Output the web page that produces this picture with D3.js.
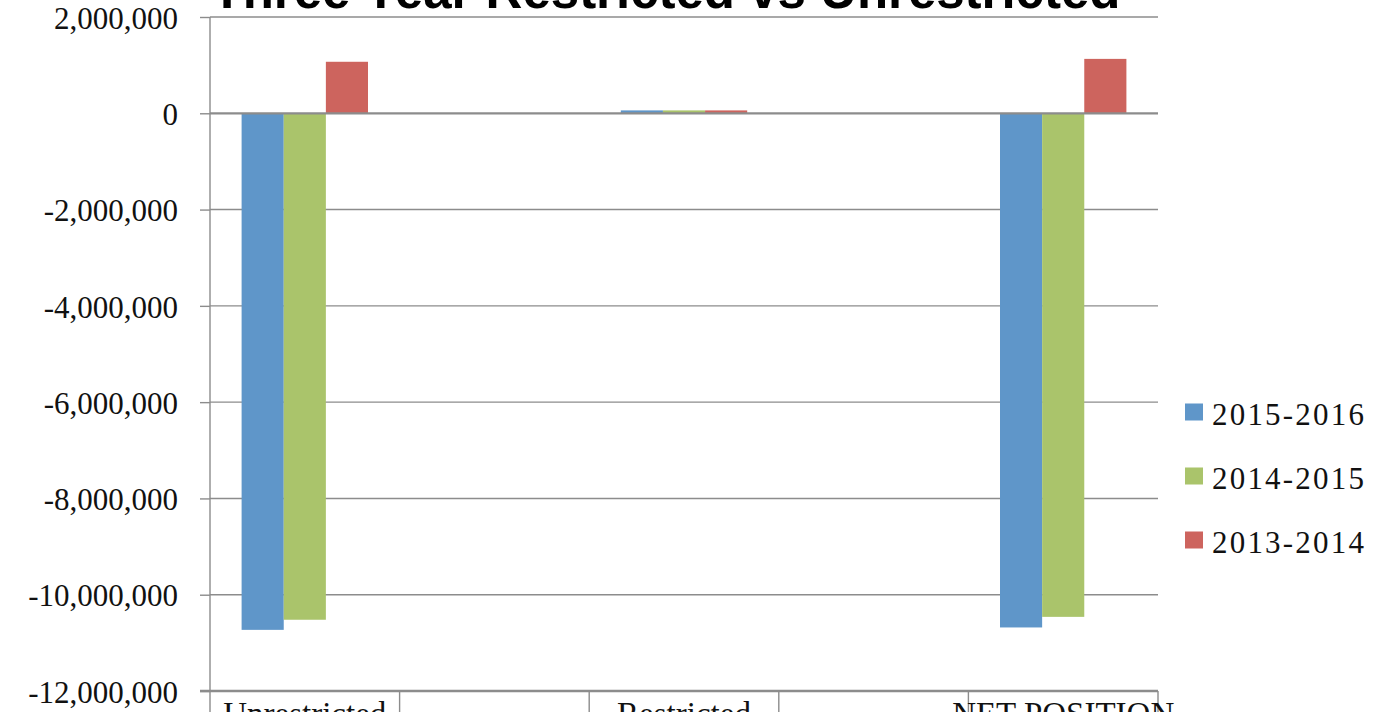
<!DOCTYPE html>
<html>
<head>
<meta charset="utf-8">
<script src="https://cdn.jsdelivr.net/npm/d3@7"></script>
<style>
  html, body { margin:0; padding:0; background:#fff; overflow:hidden; }
  svg { display:block; }
</style>
</head>
<body>
<div id="chart"></div>
<script>
/* three year restricted vs unrestricted — clustered columns */

const TITLE      = "Three Year Restricted vs Unrestricted";
const CATEGORIES = ["Unrestricted", "", "Restricted", "", "NET POSITION"];
const SERIES     = ["2015-2016", "2014-2015", "2013-2014"];
const V_2015_16  = [-10730000, null, 60000, null, -10680000];
const V_2014_15  = [-10520000, null, 60000, null, -10460000];
const V_2013_14  = [  1070000, null, 60000, null,   1130000];
const Y_TICKS    = [2000000, 0, -2000000, -4000000, -6000000, -8000000, -10000000, -12000000];
const COLORS     = ["#5f96c9", "#aac46b", "#cd645e"];

const W = 1386, H = 712;
const PLOT = {left:210, right:1158, top:17, bottom:691};
const GRID = "#8c8c8c";

const values = [V_2015_16, V_2014_15, V_2013_14];
const fmt = d3.formatLocale({decimal:".", thousands:",", grouping:[3], currency:["",""], minus:"-"}).format(",");

const svg = d3.select("#chart").append("svg").attr("width", W).attr("height", H);

/* ---------- scales ---------- */
const y = d3.scaleLinear().domain([-12000000, 2000000]).range([PLOT.bottom, PLOT.top]);
const x0 = d3.scaleBand().domain(d3.range(CATEGORIES.length))
  .range([PLOT.left, PLOT.right]).paddingInner(0).paddingOuter(0);
const x1 = d3.scaleBand().domain(SERIES)
  .range([0, x0.bandwidth()]).paddingInner(0).paddingOuter(0.75);

/* ---------- gridlines ---------- */
svg.append("g").selectAll("line").data(Y_TICKS.filter(d => d !== 0 && d !== -12000000)).enter()
  .append("line")
  .attr("x1", PLOT.left).attr("x2", PLOT.right)
  .attr("y1", d => y(d)).attr("y2", d => y(d))
  .attr("stroke", GRID).attr("stroke-width", 1.4);

/* ---------- y axis ---------- */
const yAxis = svg.append("g").attr("transform", `translate(${PLOT.left},0)`)
  .call(d3.axisLeft(y).tickValues(Y_TICKS).tickFormat(fmt).tickSize(10).tickPadding(22));
yAxis.select(".domain").remove();
yAxis.selectAll(".tick line").attr("stroke", GRID).attr("stroke-width", 1.4);
yAxis.selectAll(".tick text")
  .attr("fill", "#111").attr("dy", "0.36em")
  .style("font-family", "'Liberation Serif', 'DejaVu Serif', serif").style("font-size", "31px");

svg.append("line")
  .attr("x1", PLOT.left).attr("x2", PLOT.left)
  .attr("y1", PLOT.top).attr("y2", H)
  .attr("stroke", GRID).attr("stroke-width", 1.4);

/* ---------- bars ---------- */
const groups = svg.append("g").selectAll("g").data(CATEGORIES).enter()
  .append("g").attr("transform", (d, i) => `translate(${x0(i)},0)`);

groups.selectAll("rect")
  .data((d, i) => SERIES.map((s, k) => ({s, k, v: values[k][i]})).filter(e => e.v !== null))
  .enter().append("rect")
  .attr("x", d => x1(d.s))
  .attr("width", x1.bandwidth())
  .attr("y", d => y(Math.max(0, d.v)))
  .attr("height", d => Math.abs(y(d.v) - y(0)))
  .attr("fill", d => COLORS[d.k]);

/* zero line over bars */
svg.append("line")
  .attr("x1", PLOT.left).attr("x2", PLOT.right)
  .attr("y1", y(0)).attr("y2", y(0))
  .attr("stroke", GRID).attr("stroke-width", 2.2);

/* ---------- x axis ---------- */
svg.append("line")
  .attr("x1", PLOT.left - 10).attr("x2", PLOT.right)
  .attr("y1", PLOT.bottom).attr("y2", PLOT.bottom)
  .attr("stroke", GRID).attr("stroke-width", 2.4);

svg.append("g").selectAll("line").data(d3.range(1, CATEGORIES.length + 1)).enter()
  .append("line")
  .attr("x1", i => x0.step() * i + PLOT.left).attr("x2", i => x0.step() * i + PLOT.left)
  .attr("y1", PLOT.bottom).attr("y2", H)
  .attr("stroke", GRID).attr("stroke-width", 1.4);

svg.append("g").selectAll("text").data(CATEGORIES).enter()
  .append("text")
  .attr("x", (d, i) => x0(i) + x0.bandwidth() / 2)
  .attr("y", 725)
  .attr("text-anchor", "middle")
  .attr("fill", "#111")
  .style("font-family", "'Liberation Serif', 'DejaVu Serif', serif").style("font-size", "33px")
  .text(d => d);

/* ---------- title ---------- */
svg.append("text")
  .attr("x", 666).attr("y", 8)
  .attr("text-anchor", "middle")
  .attr("fill", "#000")
  .style("font-family", "'Liberation Sans', Arial, sans-serif")
  .style("font-weight", "bold").style("font-size", "51px")
  .text(TITLE);

/* ---------- legend ---------- */
const leg = svg.append("g").selectAll("g").data(SERIES).enter()
  .append("g").attr("transform", (d, i) => `translate(1185,${412 + i * 64})`);

leg.append("rect")
  .attr("x", 0).attr("y", -8.5).attr("width", 18).attr("height", 17)
  .attr("fill", (d, i) => COLORS[i]);

leg.append("text")
  .attr("x", 27).attr("y", 13)
  .attr("fill", "#111")
  .style("font-family", "'Liberation Serif', 'DejaVu Serif', serif")
  .style("font-size", "31px").style("letter-spacing", "2.2px")
  .text(d => d);
</script>
</body>
</html>
